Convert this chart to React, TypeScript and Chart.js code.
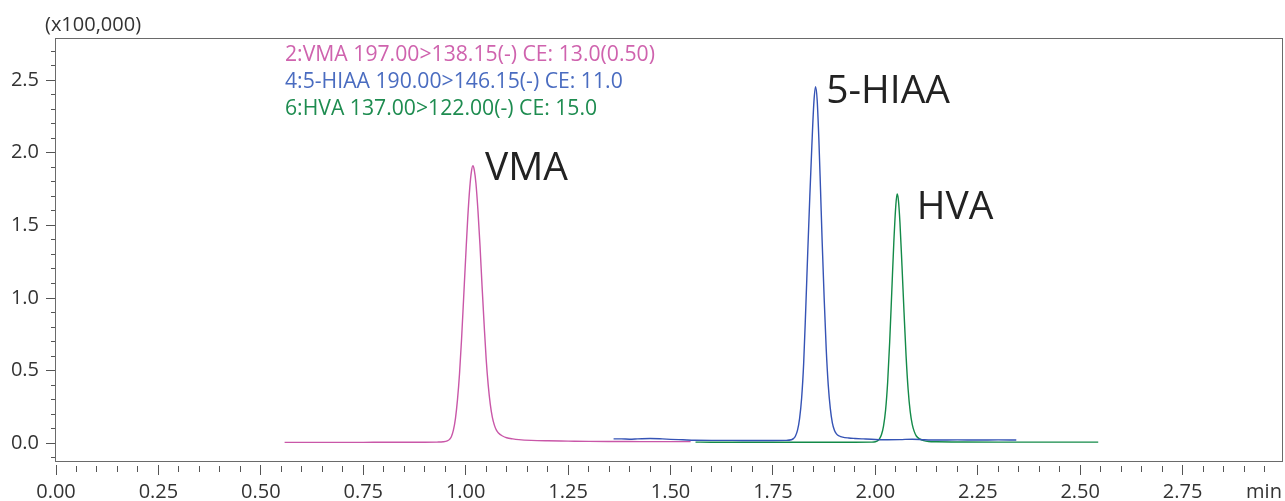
import React, { useEffect, useRef } from 'react';
import { Chart, registerables } from 'chart.js';

Chart.register(...registerables);

// ---- data ----
const vmaTime = [0.558, 0.60, 0.65, 0.70, 0.75, 0.80, 0.85, 0.90, 0.93, 0.945, 0.955, 0.960, 0.965, 0.970, 0.975, 0.980, 0.985, 0.990, 0.995, 1.000, 1.005, 1.010, 1.014, 1.0176, 1.021, 1.025, 1.030, 1.035, 1.040, 1.045, 1.050, 1.055, 1.060, 1.065, 1.070, 1.075, 1.080, 1.090, 1.100, 1.115, 1.130, 1.160, 1.200, 1.25, 1.30, 1.35, 1.40, 1.45, 1.50, 1.549];
const vmaInt = [0.006, 0.006, 0.006, 0.006, 0.006, 0.007, 0.007, 0.007, 0.008, 0.010, 0.016, 0.025, 0.045, 0.09, 0.17, 0.30, 0.48, 0.72, 1.00, 1.28, 1.55, 1.76, 1.87, 1.91, 1.88, 1.79, 1.60, 1.36, 1.08, 0.82, 0.58, 0.40, 0.27, 0.18, 0.125, 0.09, 0.07, 0.05, 0.038, 0.030, 0.025, 0.020, 0.017, 0.015, 0.013, 0.012, 0.012, 0.011, 0.011, 0.011];

const hiaaTime = [1.361, 1.38, 1.40, 1.42, 1.45, 1.48, 1.50, 1.53, 1.56, 1.60, 1.65, 1.70, 1.75, 1.78, 1.795, 1.800, 1.805, 1.810, 1.815, 1.820, 1.825, 1.830, 1.835, 1.840, 1.845, 1.850, 1.854, 1.858, 1.862, 1.866, 1.870, 1.875, 1.880, 1.885, 1.890, 1.895, 1.900, 1.905, 1.912, 1.920, 1.935, 1.95, 1.97, 2.00, 2.03, 2.06, 2.09, 2.12, 2.15, 2.20, 2.25, 2.30, 2.344];
const hiaaInt = [0.030, 0.030, 0.028, 0.030, 0.033, 0.030, 0.027, 0.024, 0.021, 0.020, 0.020, 0.019, 0.019, 0.020, 0.024, 0.032, 0.05, 0.09, 0.17, 0.31, 0.55, 0.92, 1.32, 1.70, 2.05, 2.35, 2.454, 2.36, 2.10, 1.76, 1.40, 1.00, 0.65, 0.40, 0.24, 0.14, 0.09, 0.065, 0.050, 0.042, 0.036, 0.033, 0.030, 0.026, 0.024, 0.025, 0.028, 0.024, 0.022, 0.023, 0.022, 0.023, 0.022];

const hvaTime = [1.561, 1.60, 1.70, 1.80, 1.90, 1.95, 1.99, 2.000, 2.005, 2.010, 2.015, 2.020, 2.025, 2.030, 2.035, 2.040, 2.045, 2.050, 2.053, 2.056, 2.060, 2.065, 2.070, 2.075, 2.080, 2.085, 2.090, 2.095, 2.100, 2.108, 2.118, 2.13, 2.15, 2.20, 2.30, 2.40, 2.50, 2.544];
const hvaInt = [0.008, 0.007, 0.007, 0.007, 0.007, 0.007, 0.008, 0.010, 0.016, 0.03, 0.06, 0.12, 0.23, 0.42, 0.70, 1.04, 1.38, 1.64, 1.716, 1.68, 1.52, 1.22, 0.90, 0.60, 0.37, 0.22, 0.13, 0.08, 0.05, 0.03, 0.018, 0.012, 0.010, 0.009, 0.008, 0.008, 0.008, 0.008];

const legendLines = ['2:VMA 197.00>138.15(-) CE: 13.0(0.50)', '4:5-HIAA 190.00>146.15(-) CE: 11.0', '6:HVA 137.00>122.00(-) CE: 15.0'];
const peakNames = ['VMA', '5-HIAA', 'HVA'];
const peakLabelTime = [1.047, 1.880, 2.101];
const peakLabelValue = [1.810, 2.345, 1.542];

const X_MIN = 0;
const X_MAX = 2.995;
const X_MINOR = 0.05;
const X_MAJOR = 0.25;
const Y_MIN = -0.129;
const Y_MAX = 2.79;
const Y_MINOR = 0.1;
const Y_MAJOR = 0.5;
const yUnitLabel = '(x100,000)';
const xUnitLabel = 'min';

// ---- styles ----
const lineColors = ['#c957a8', '#3553b5', '#138a48'];
const textColors = ['#cf63ae', '#4a6cc0', '#1e8c50'];
const FONT = "'Open Sans', 'Noto Sans', sans-serif";
const TEXT = '#333333';
const FRAME = '#6a6a6a';

const isMajor = (v: number, step: number) => Math.abs(v / step - Math.round(v / step)) < 1e-6;
const toPoints = (t: number[], v: number[]) => t.map((x, i) => ({ x, y: v[i] }));

const overlay = {
  id: 'overlay',
  afterDraw(chart: any) {
    const { ctx, chartArea: a, scales } = chart;
    const xs = scales.x;
    const ys = scales.y;
    ctx.save();
    // frame
    ctx.strokeStyle = FRAME;
    ctx.lineWidth = 1;
    ctx.strokeRect(a.left - 0.5, a.top + 0.5, a.right - a.left, a.bottom - a.top - 1);

    // unit labels
    ctx.fillStyle = TEXT;
    ctx.font = `20px ${FONT}`;
    ctx.textAlign = 'left';
    ctx.textBaseline = 'alphabetic';
    ctx.fillText(yUnitLabel, 45, 31);
    ctx.textAlign = 'center';
    ctx.textBaseline = 'middle';
    ctx.fillText(xUnitLabel, xs.getPixelForValue(X_MAX) - 19, a.bottom + 30);

    // legend
    ctx.font = `21.2px ${FONT}`;
    ctx.textAlign = 'left';
    ctx.textBaseline = 'alphabetic';
    legendLines.forEach((s, i) => {
      ctx.fillStyle = textColors[i];
      ctx.fillText(s, 285, 60.5 + i * 27);
    });

    // peak names
    ctx.font = `39px ${FONT}`;
    ctx.fillStyle = '#222222';
    peakNames.forEach((s, i) => {
      ctx.fillText(s, xs.getPixelForValue(peakLabelTime[i]), ys.getPixelForValue(peakLabelValue[i]));
    });
    ctx.restore();
  },
};

export default function App() {
  const ref = useRef<HTMLCanvasElement>(null);
  useEffect(() => {
    Chart.defaults.font.family = FONT;
    const chart = new Chart(ref.current as HTMLCanvasElement, {
      type: 'line',
      data: {
        datasets: [
          { label: peakNames[0], data: toPoints(vmaTime, vmaInt), borderColor: lineColors[0] },
          { label: peakNames[1], data: toPoints(hiaaTime, hiaaInt), borderColor: lineColors[1] },
          { label: peakNames[2], data: toPoints(hvaTime, hvaInt), borderColor: lineColors[2] },
        ].map((d) => ({
          ...d,
          borderWidth: 1.4,
          pointRadius: 0,
          fill: false,
          tension: 0.4,
          cubicInterpolationMode: 'monotone' as const,
        })),
      },
      options: {
        animation: false,
        responsive: false,
        devicePixelRatio: 1,
        layout: { padding: { left: 0, top: 38, right: 2, bottom: 0 } },
        plugins: { legend: { display: false }, tooltip: { enabled: false } },
        events: [],
        scales: {
          x: {
            type: 'linear',
            min: X_MIN,
            max: X_MAX,
            border: { display: false },
            afterFit: (s: any) => { s.height = 39; },
            grid: {
              drawOnChartArea: false,
              drawTicks: true,
              tickLength: 13,
              tickColor: '#555555',
              tickWidth: 1,
              tickBorderDash: (c: any) => (isMajor(c.tick.value, X_MAJOR) ? [0, 3, 10, 100] : [0, 4, 6, 100]),
            },
            ticks: {
              stepSize: X_MINOR,
              autoSkip: false,
              maxRotation: 0,
              minRotation: 0,
              includeBounds: false,
              padding: 5,
              color: TEXT,
              font: { size: 20, family: FONT },
              callback: (v: any) => (isMajor(Number(v), X_MAJOR) ? Number(v).toFixed(2) : ''),
            },
          },
          y: {
            type: 'linear',
            min: Y_MIN,
            max: Y_MAX,
            border: { display: false },
            afterFit: (s: any) => { s.width = 56; },
            grid: {
              drawOnChartArea: false,
              drawTicks: true,
              tickLength: 10,
              tickColor: '#555555',
              tickWidth: 1,
              tickBorderDash: (c: any) => (isMajor(c.tick.value, Y_MAJOR) ? [] : [0, 5, 100]),
            },
            ticks: {
              stepSize: Y_MINOR,
              autoSkip: false,
              includeBounds: false,
              padding: 7,
              color: TEXT,
              font: { size: 20, family: FONT },
              callback: (v: any) => (isMajor(Number(v), Y_MAJOR) ? Number(v).toFixed(1) : ''),
            },
          },
        },
      },
      plugins: [overlay],
    });
    return () => chart.destroy();
  }, []);
  return (
    <div style={{ position: 'fixed', left: 0, top: 0, width: 1285, height: 501, background: '#ffffff' }}>
      <canvas ref={ref} width={1285} height={501} style={{ display: 'block', width: 1285, height: 501 }} />
    </div>
  );
}
